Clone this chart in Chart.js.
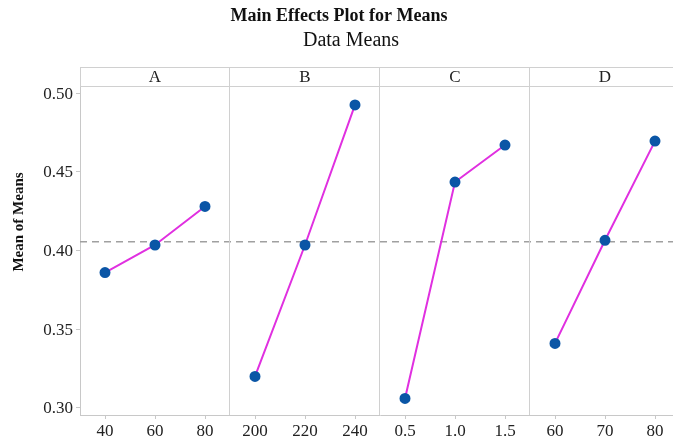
<!DOCTYPE html>
<html>
<head>
<meta charset="utf-8">
<script src="https://cdn.jsdelivr.net/npm/chart.js@4/dist/chart.umd.min.js"></script>
<style>
  html, body { margin: 0; padding: 0; overflow: hidden; background: #fff; }
  #wrap { width: 673px; height: 443px; overflow: hidden; position: relative; }
  #chart { position: absolute; left: 0; top: 0; }
</style>
</head>
<body>
<div id="wrap"><canvas id="chart" width="680" height="443"></canvas></div>
<script>
// factors and their levels
const factors = ['A', 'B', 'C', 'D'];
const levelsA = ['40', '60', '80'];
const levelsB = ['200', '220', '240'];
const levelsC = ['0.5', '1.0', '1.5'];
const levelsD = ['60', '70', '80'];

// mean of means
const meansA = [0.386, 0.4035, 0.428];
const meansB = [0.320, 0.4035, 0.4925];
const meansC = [0.306, 0.4435, 0.467];
const meansD = [0.341, 0.4065, 0.4695];
const grandMean = 0.4055;
const yTicks = [0.30, 0.35, 0.40, 0.45, 0.50];

const SERIF = '"Liberation Serif", "Times New Roman", serif';
const labels = [...levelsA, ...levelsB, ...levelsC, ...levelsD];
const allMeans = [meansA, meansB, meansC, meansD];

// each factor is one dataset, padded with nulls outside its own panel
const datasets = allMeans.map((m, i) => {
  const data = new Array(labels.length).fill(null);
  m.forEach((v, j) => { data[i * 3 + j] = v; });
  return {
    label: factors[i],
    data: data,
    borderColor: '#e030e0',
    borderWidth: 2,
    pointBackgroundColor: '#0b56a6',
    pointBorderColor: '#0b56a6',
    pointRadius: 4.5,
    spanGaps: false,
    tension: 0
  };
});

// panels, header strip, mean line, titles
const panelPlugin = {
  id: 'panels',
  beforeDatasetsDraw(chart) {
    const { ctx, chartArea, scales } = chart;
    const y = scales.y.getPixelForValue(grandMean);
    ctx.save();
    ctx.strokeStyle = '#a0a0a0';
    ctx.lineWidth = 1.5;
    ctx.setLineDash([7, 5]);
    ctx.beginPath();
    ctx.moveTo(chartArea.left, y);
    ctx.lineTo(chartArea.right, y);
    ctx.stroke();
    ctx.restore();
  },
  afterDraw(chart) {
    const { ctx, chartArea, scales } = chart;
    const x = scales.x;
    const headTop = 67;
    ctx.save();
    ctx.strokeStyle = '#d0d0d0';
    ctx.lineWidth = 1;
    // strip header
    ctx.beginPath();
    ctx.moveTo(chartArea.left, headTop + 0.5);
    ctx.lineTo(chartArea.right, headTop + 0.5);
    ctx.moveTo(chartArea.left, chartArea.top + 0.5);
    ctx.lineTo(chartArea.right, chartArea.top + 0.5);
    ctx.moveTo(chartArea.left + 0.5, headTop);
    ctx.lineTo(chartArea.left + 0.5, chartArea.top);
    // dividers between panels
    for (let i = 1; i < factors.length; i++) {
      const px = Math.floor((x.getPixelForTick(i * 3 - 1) + x.getPixelForTick(i * 3)) / 2) - 0.5;
      ctx.moveTo(px, headTop);
      ctx.lineTo(px, chartArea.bottom);
    }
    ctx.stroke();

    ctx.fillStyle = '#222';
    ctx.font = '17px ' + SERIF;
    ctx.textAlign = 'center';
    ctx.textBaseline = 'middle';
    factors.forEach((f, i) => {
      const cx = x.getPixelForTick(i * 3 + 1);
      ctx.fillText(f, cx, (headTop + chartArea.top) / 2 + 1);
    });

    // titles
    ctx.fillStyle = '#111';
    ctx.textBaseline = 'alphabetic';
    ctx.font = 'bold 18px ' + SERIF;
    ctx.fillText('Main Effects Plot for Means', 339, 21);
    ctx.font = '20px ' + SERIF;
    ctx.fillText('Data Means', 351, 46);

    // y axis title
    ctx.translate(19, 222);
    ctx.rotate(-Math.PI / 2);
    ctx.font = 'bold 15px ' + SERIF;
    ctx.textBaseline = 'middle';
    ctx.fillText('Mean of Means', 0, 0);
    ctx.restore();
  }
};

new Chart(document.getElementById('chart'), {
  type: 'line',
  data: { labels: labels, datasets: datasets },
  options: {
    responsive: false,
    animation: false,
    layout: { autoPadding: false, padding: { top: 86, left: 0, right: 0, bottom: 0 } },
    plugins: {
      legend: { display: false },
      tooltip: { enabled: false },
      title: { display: false }
    },
    scales: {
      x: {
        type: 'category',
        offset: true,
        grid: { offset: false, drawOnChartArea: false, tickLength: 4, tickColor: '#c8c8c8' },
        border: { color: '#c8c8c8' },
        ticks: { color: '#222', font: { family: SERIF, size: 17 }, padding: 2, maxRotation: 0, autoSkip: false },
        afterFit(scale) { scale.height = 28; }
      },
      y: {
        min: 0.2955,
        max: 0.5045,
        grid: { drawOnChartArea: false, tickLength: 4, tickColor: '#c8c8c8' },
        border: { color: '#c8c8c8' },
        ticks: {
          color: '#222',
          font: { family: SERIF, size: 17 },
          padding: 3,
          labelOffset: 1,
          callback: v => v.toFixed(2)
        },
        afterBuildTicks(scale) { scale.ticks = yTicks.map(v => ({ value: v })); },
        afterFit(scale) { scale.width = 80; }
      }
    }
  },
  plugins: [panelPlugin]
});
</script>
</body>
</html>
